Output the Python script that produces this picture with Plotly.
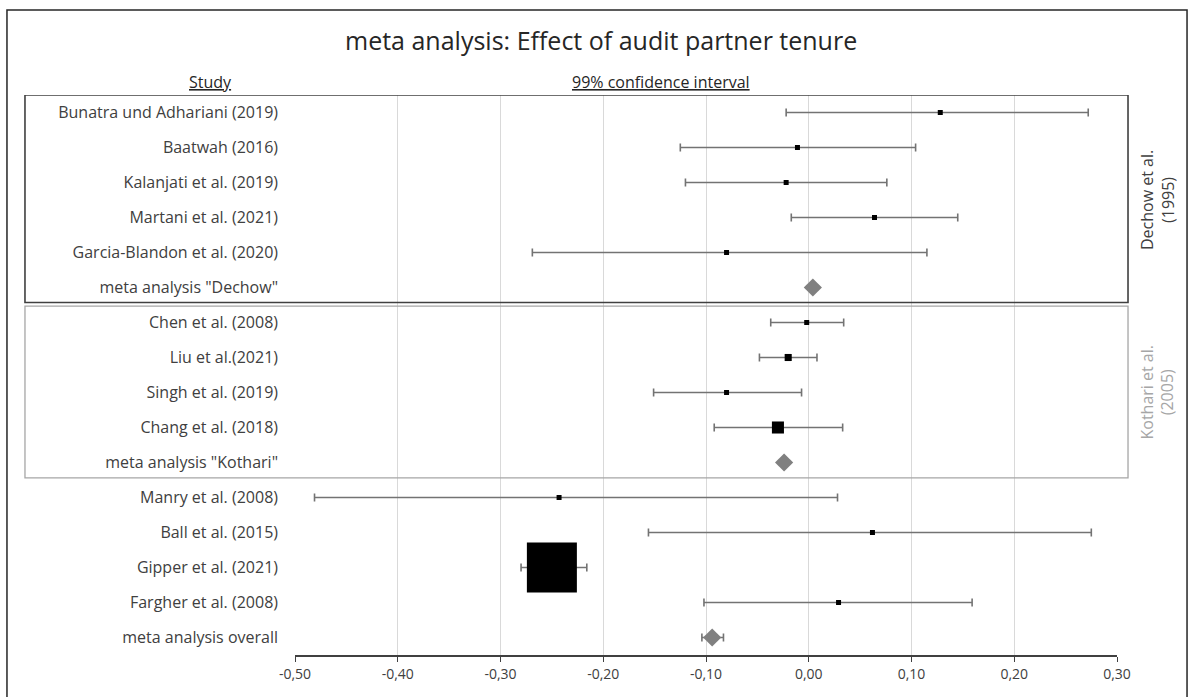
import plotly.graph_objects as go

# ---------------- data ----------------
studies = [
    "Bunatra und Adhariani (2019)",
    "Baatwah (2016)",
    "Kalanjati et al. (2019)",
    "Martani et al. (2021)",
    "Garcia-Blandon et al. (2020)",
    'meta analysis "Dechow"',
    "Chen et al. (2008)",
    "Liu et al.(2021)",
    "Singh et al. (2019)",
    "Chang et al. (2018)",
    'meta analysis "Kothari"',
    "Manry et al. (2008)",
    "Ball et al. (2015)",
    "Gipper et al. (2021)",
    "Fargher et al. (2008)",
    "meta analysis overall",
]
is_meta = [False, False, False, False, False, True,
           False, False, False, False, True,
           False, False, False, False, True]
estimate = [0.128, -0.011, -0.022, 0.064, -0.080, 0.004,
            -0.002, -0.020, -0.080, -0.030, -0.024,
            -0.243, 0.062, -0.250, 0.029, -0.094]
ci_low = [-0.022, -0.125, -0.120, -0.017, -0.269, None,
          -0.037, -0.048, -0.151, -0.092, None,
          -0.481, -0.156, -0.280, -0.102, -0.104]
ci_high = [0.272, 0.104, 0.076, 0.145, 0.115, None,
           0.034, 0.008, -0.007, 0.033, None,
           0.028, 0.275, -0.216, 0.159, -0.083]
# relative study weight (marker area)
weight = [1, 1, 1, 1, 1, 1,
          1, 2, 1, 5.8, 1,
          1, 1, 100, 1, 1]
x_ticks = [-0.5, -0.4, -0.3, -0.2, -0.1, 0.0, 0.1, 0.2, 0.3]
x_tick_labels = ["-0,50", "-0,40", "-0,30", "-0,20", "-0,10", "0,00", "0,10", "0,20", "0,30"]
groups = [("Dechow et al.<br>(1995)", 0, 5), ("Kothari et al.<br>(2005)", 6, 10)]

# ---------------- figure ----------------
FONT = "Open Sans"
TXT = "#404040"
rows = list(range(len(studies)))

def pick(flag):
    idx = [i for i in rows if is_meta[i] == flag]
    xs = [estimate[i] for i in idx]
    plus = [(ci_high[i] if ci_high[i] is not None else estimate[i]) - estimate[i] for i in idx]
    minus = [estimate[i] - (ci_low[i] if ci_low[i] is not None else estimate[i]) for i in idx]
    return idx, xs, plus, minus

fig = go.Figure()

# confidence-interval whiskers (drawn first, underneath the markers)
for flag in (False, True):
    idx, xs, plus, minus = pick(flag)
    fig.add_trace(go.Scatter(
        x=xs, y=idx, mode="markers",
        marker=dict(size=1, opacity=0),
        error_x=dict(type="data", symmetric=False, array=plus, arrayminus=minus,
                     color="#737373", thickness=1.6, width=4),
        showlegend=False, hoverinfo="skip",
    ))

idx, xs, plus, minus = pick(False)
fig.add_trace(go.Scatter(
    x=xs, y=idx, mode="markers",
    marker=dict(symbol="square", color="black", opacity=1,
                size=[5 * weight[i] ** 0.5 for i in idx], line=dict(width=0)),
    showlegend=False, hoverinfo="x+y",
))

idx, xs, plus, minus = pick(True)
fig.add_trace(go.Scatter(
    x=xs, y=idx, mode="markers",
    marker=dict(symbol="diamond", color="#808080", opacity=1, size=14, line=dict(width=0)),
    showlegend=False, hoverinfo="x+y",
))

shapes = []
# outer frame
shapes.append(dict(type="rect", xref="paper", yref="paper",
                   x0=-0.3504, x1=1.0852, y0=-0.08, y1=1.1518,
                   line=dict(color="#262626", width=1.5), layer="below"))
# group boxes
shapes.append(dict(type="rect", xref="paper", yref="y",
                   x0=-0.3285, x1=1.0134, y0=groups[0][1] - 0.5, y1=groups[0][2] + 0.43,
                   line=dict(color="#404040", width=1.6), layer="above"))
shapes.append(dict(type="rect", xref="paper", yref="y",
                   x0=-0.3285, x1=1.0134, y0=groups[1][1] - 0.47, y1=groups[1][2] + 0.44,
                   line=dict(color="#a6a6a6", width=1.3), layer="above"))

annotations = [
    dict(text="meta analysis: Effect of audit partner tenure", xref="paper", yref="paper",
         x=0.372, y=1.098, xanchor="center", yanchor="middle", showarrow=False,
         font=dict(family=FONT, size=25, color="#262626")),
    dict(text="<u>Study</u>", xref="paper", yref="paper",
         x=-0.1034, y=1.023, xanchor="center", yanchor="middle", showarrow=False,
         font=dict(family=FONT, size=16, color="#262626")),
    dict(text="<u>99% confidence interval</u>", xref="paper", yref="paper",
         x=0.445, y=1.023, xanchor="center", yanchor="middle", showarrow=False,
         font=dict(family=FONT, size=16, color="#262626")),
    dict(text=groups[0][0], xref="paper", yref="y",
         x=1.0487, y=(groups[0][1] + groups[0][2]) / 2, textangle=-90,
         xanchor="center", yanchor="middle", showarrow=False,
         font=dict(family=FONT, size=16, color=TXT)),
    dict(text=groups[1][0], xref="paper", yref="y",
         x=1.0487, y=(groups[1][1] + groups[1][2]) / 2, textangle=-90,
         xanchor="center", yanchor="middle", showarrow=False,
         font=dict(family=FONT, size=16, color="#a6a6a6")),
]

fig.update_layout(
    width=1190, height=697,
    margin=dict(l=295, r=73, t=95, b=42, autoexpand=False),
    paper_bgcolor="white", plot_bgcolor="white",
    font=dict(family=FONT, size=14, color=TXT),
    shapes=shapes, annotations=annotations,
    xaxis=dict(range=[-0.5, 0.3], tickvals=x_ticks, ticktext=x_tick_labels,
               showgrid=True, gridcolor="#d9d9d9", gridwidth=1,
               zeroline=False, showline=True, linecolor="#404040", linewidth=1.5,
               ticks="outside", ticklen=5, tickcolor="#404040", tickwidth=1.2,
               ticklabelstandoff=0,
               tickfont=dict(family=FONT, size=14, color=TXT)),
    yaxis=dict(range=[len(studies) - 0.5, -0.5], tickvals=rows, ticktext=studies,
               showgrid=False, zeroline=False, showline=False, ticks="",
               ticklabelstandoff=16,
               tickfont=dict(family=FONT, size=16, color=TXT)),
)

fig.write_html("out.html", config={"displayModeBar": False},
               post_script="document.body.style.margin='0px';")
